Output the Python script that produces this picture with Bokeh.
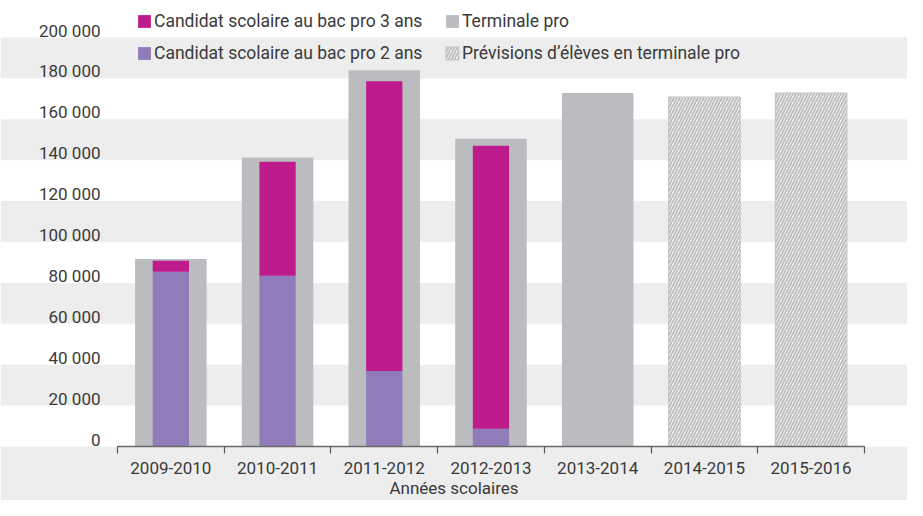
from bokeh.plotting import figure
from bokeh.models import (ColumnDataSource, Range1d, FixedTicker, Legend, LegendItem,
                          LinearAxis)
from bokeh.embed import file_html
from bokeh.resources import INLINE

# ---- data ----
years = ["2009-2010", "2010-2011", "2011-2012", "2012-2013", "2013-2014", "2014-2015", "2015-2016"]
terminale_years = ["2009-2010", "2010-2011", "2011-2012", "2012-2013", "2013-2014"]
terminale_pro = [91700, 141300, 184000, 150500, 172800]
prevision_years = ["2014-2015", "2015-2016"]
prevision_terminale = [170900, 172800]
candidat_years = ["2009-2010", "2010-2011", "2011-2012", "2012-2013"]
bac_pro_2ans = [85400, 83500, 36900, 8700]
bac_pro_3ans = [5400, 55800, 141700, 138400]
y_ticks = [0, 20000, 40000, 60000, 80000, 100000, 120000, 140000, 160000, 180000, 200000]
x_title = "Années scolaires"
labels = {
    "p3": "Candidat scolaire au bac pro 3 ans",
    "p2": "Candidat scolaire au bac pro 2 ans",
    "term": "Terminale pro",
    "prev": "Prévisions d\u2019élèves en terminale pro",
}

FONT = "Roboto"
TXT = "#3a3a3a"
MAGENTA = "#BE1B8C"
PURPLE = "#8F7CB9"
GREY = "#BBBCC0"
BAND = "#EDEDED"

W, H = 907, 500
BOTTOM = 54                     # height of x-axis panel
FRAME_H = H - BOTTOM
Y_END = 200000 * FRAME_H / 409  # 200 000 sits 409 px above the axis
LABEL_SHIFT = 7 * Y_END / FRAME_H  # y labels sit 7 px above their value

idx = {y: i for i, y in enumerate(years)}

p = figure(width=W, height=H, output_backend="svg", toolbar_location=None,
           x_range=Range1d(-1.5964, 6.9033), y_range=Range1d(0, Y_END),
           min_border_left=0, min_border_right=0, min_border_top=0,
           min_border_bottom=BOTTOM)
p.background_fill_color = "white"
p.border_fill_color = BAND
p.outline_line_color = None

src_t = ColumnDataSource(dict(x=[idx[y] for y in terminale_years], top=terminale_pro))
src_p = ColumnDataSource(dict(x=[idx[y] for y in prevision_years], top=prevision_terminale))
src_c = ColumnDataSource(dict(x=[idx[y] for y in candidat_years], p2=bac_pro_2ans, p3=bac_pro_3ans))

r_t = p.vbar(x="x", top="top", bottom=0, width=0.67, source=src_t, fill_color=GREY, line_color=None)
r_p = p.vbar(x="x", top="top", bottom=0, width=0.67, source=src_p, fill_color="white",
             line_color="#C6C6C6", line_width=1.2, hatch_pattern="/", hatch_color="#BEBEBE",
             hatch_scale=6, hatch_weight=2)
r_c = p.vbar_stack(["p2", "p3"], x="x", width=0.34, source=src_c,
                   fill_color=[PURPLE, MAGENTA], line_color=None)

# grid bands
p.xgrid.visible = False
p.ygrid.ticker = FixedTicker(ticks=y_ticks)
p.ygrid.grid_line_color = None
p.ygrid.band_fill_color = BAND
p.ygrid.band_fill_alpha = 1.0

# x axis
xa = p.xaxis[0]
xa.ticker = FixedTicker(ticks=list(range(len(years))),
                        minor_ticks=[i - 0.5 for i in range(len(years) + 1)])
xa.major_label_overrides = {i: y for i, y in enumerate(years)}
xa.bounds = (-0.5, len(years) - 0.5)
xa.axis_line_color = "#6a6a6a"
xa.axis_line_width = 1.5
xa.major_tick_line_color = None
xa.major_tick_out = 0
xa.major_tick_in = 0
xa.minor_tick_line_color = "#555555"
xa.minor_tick_line_width = 1.2
xa.minor_tick_out = 7
xa.minor_tick_in = 0
xa.major_label_standoff = 8
xa.major_label_text_font = FONT
xa.major_label_text_font_size = "17px"
xa.major_label_text_color = TXT
xa.axis_label = x_title
xa.axis_label_text_font = FONT
xa.axis_label_text_font_size = "17px"
xa.axis_label_text_font_style = "normal"
xa.axis_label_text_color = TXT
xa.axis_label_standoff = 1

# y axis (labels drawn inside the frame, slightly above their value)
p.yaxis.visible = False
p.extra_y_ranges = {"lab": Range1d(-LABEL_SHIFT, Y_END - LABEL_SHIFT)}
ya = LinearAxis(y_range_name="lab", fixed_location=-0.6593)
ya.ticker = FixedTicker(ticks=y_ticks)
ya.major_label_overrides = {v: f"{v:,}".replace(",", " ") for v in y_ticks}
ya.axis_line_color = None
ya.major_tick_line_color = None
ya.minor_tick_line_color = None
ya.major_tick_out = 0
ya.major_tick_in = 0
ya.major_label_standoff = 0
ya.major_label_text_font = FONT
ya.major_label_text_font_size = "17px"
ya.major_label_text_color = TXT
p.add_layout(ya, "left")

legend = Legend(items=[
    LegendItem(label=labels["p3"], renderers=[r_c[1]]),
    LegendItem(label=labels["p2"], renderers=[r_c[0]]),
    LegendItem(label=labels["term"], renderers=[r_t]),
    LegendItem(label=labels["prev"], renderers=[r_p]),
], location=(136, FRAME_H - 64.5), orientation="vertical", ncols=2)
legend.background_fill_alpha = 0
legend.border_line_color = None
legend.padding = 0
legend.margin = 0
legend.spacing = 9
legend.glyph_width = 16
legend.glyph_height = 16
legend.label_standoff = 2
legend.label_width = 281
legend.label_height = 23
legend.label_text_font = FONT
legend.label_text_font_size = "17.5px"
legend.label_text_color = TXT
p.add_layout(legend)

open("out.html", "w").write(file_html(p, INLINE))
